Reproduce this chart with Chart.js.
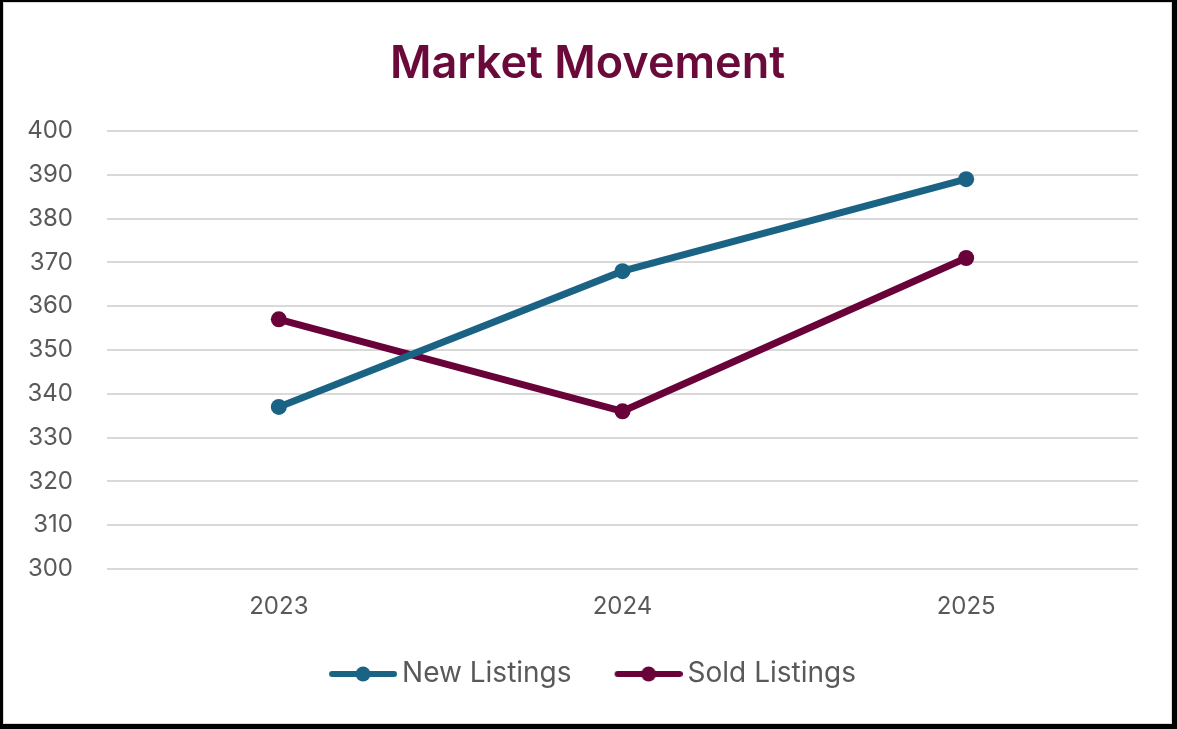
<!DOCTYPE html>
<html>
<head>
<meta charset="utf-8">
<script src="https://cdn.jsdelivr.net/npm/chart.js@4.4.1/dist/chart.umd.min.js"></script>
<style>
  html, body { margin:0; padding:0; background:#000; width:1177px; height:729px; overflow:hidden; }
  #frame { position:absolute; left:3px; top:2px; width:1169px; height:722px; background:#fff; box-sizing:border-box; border:1px solid #d9d9d9; }
  #wrap { position:absolute; left:0; top:0; width:1167px; height:720px; }
</style>
</head>
<body>
<div id="frame"><div id="wrap"><canvas id="c" width="1167" height="720"></canvas></div></div>
<script>
const categories = ['2023', '2024', '2025'];
const newListings = [337, 368, 389];
const soldListings = [357, 336, 371];
const yTicks = [300, 310, 320, 330, 340, 350, 360, 370, 380, 390, 400];

const BLUE = '#1b6384';
const WINE = '#690238';
const FONT = 'Inter, "Noto Sans", sans-serif';

function legendIcon(color) {
  const cv = document.createElement('canvas');
  cv.width = 87; cv.height = 18;
  const g = cv.getContext('2d');
  g.strokeStyle = color; g.lineWidth = 6; g.lineCap = 'round';
  g.beginPath(); g.moveTo(22, 9); g.lineTo(84, 9); g.stroke();
  g.fillStyle = color;
  g.beginPath(); g.arc(53, 9, 7.5, 0, Math.PI * 2); g.fill();
  return cv;
}

const chart = new Chart(document.getElementById('c'), {
  type: 'line',
  data: {
    labels: categories,
    datasets: [
      { label: 'New Listings', data: newListings, borderColor: BLUE, backgroundColor: BLUE,
        borderWidth: 7, pointRadius: 8, pointHoverRadius: 8, pointStyle: 'circle', tension: 0,
        pointBorderWidth: 0, yAxisID: 'y' },
      { label: 'Sold Listings', data: soldListings, borderColor: WINE, backgroundColor: WINE,
        borderWidth: 7, pointRadius: 8, pointHoverRadius: 8, pointStyle: 'circle', tension: 0,
        pointBorderWidth: 0, yAxisID: 'y' }
    ]
  },
  options: {
    responsive: false,
    animation: false,
    layout: { padding: { left: 0, right: 0, top: 0, bottom: 25 } },
    plugins: {
      title: {
        display: true, text: 'Market Movement', color: '#6a0a3a',
        font: { family: FONT, size: 45, weight: '600' },
        padding: { top: 34, bottom: 40 }
      },
      legend: {
        position: 'bottom',
        labels: {
          color: '#595959',
          font: { family: FONT, size: 28 },
          usePointStyle: true,
          pointStyleWidth: 69,
          padding: 33,
          generateLabels(chart) {
            return chart.data.datasets.map((ds, i) => ({
              text: ds.label,
              pointStyle: legendIcon(ds.borderColor),
              fillStyle: ds.borderColor,
              strokeStyle: ds.borderColor,
              lineWidth: 0,
              fontColor: '#595959',
              datasetIndex: i,
              hidden: false
            }));
          }
        }
      },
      tooltip: { enabled: false }
    },
    scales: {
      x: {
        offset: true,
        grid: { display: false, drawTicks: false },
        border: { display: false },
        afterFit(scale) { scale.height = 58; },
        ticks: { color: '#595959', font: { family: FONT, size: 24 }, padding: 23 }
      },
      y: {
        min: 300, max: 400,
        afterFit(scale) { scale.width = 103; },
        afterBuildTicks(scale) { scale.ticks = yTicks.map(v => ({ value: v })); },
        grid: { color: '#d9d9d9', lineWidth: 2, drawTicks: false },
        border: { display: false },
        ticks: { color: '#595959', font: { family: FONT, size: 24 }, padding: 34 }
      },
      yRight: {
        position: 'right', min: 0, max: 1,
        afterFit(scale) { scale.width = 33; },
        grid: { display: false, drawTicks: false },
        border: { display: false },
        ticks: { display: false }
      }
    }
  }
});
</script>
</body>
</html>
